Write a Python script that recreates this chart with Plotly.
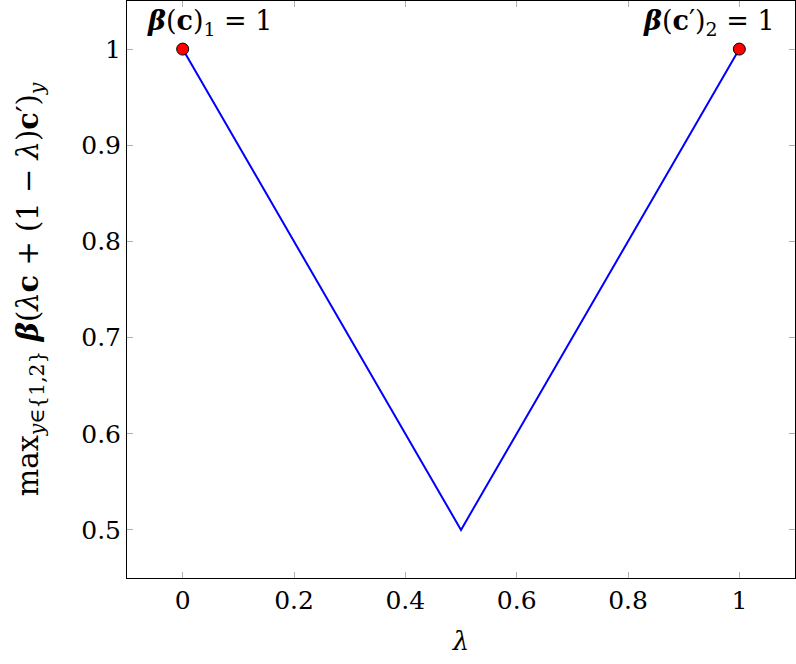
import plotly.graph_objects as go

lam = [0, 0.5, 1]
beta_max = [1, 0.5, 1]
pt_lam = [0, 1]
pt_val = [1, 1]
pt_labels = ["<b><i>β</i></b>(<b>c</b>)<sub>1</sub> = 1",
             "<b><i>β</i></b>(<b>c</b>′)<sub>2</sub> = 1"]
xticks = [0, 0.2, 0.4, 0.6, 0.8, 1]
xticklabels = ["0", "0.2", "0.4", "0.6", "0.8", "1"]
yticks = [0.5, 0.6, 0.7, 0.8, 0.9, 1]
yticklabels = ["0.5", "0.6", "0.7", "0.8", "0.9", "1"]

FONT = "DejaVu Serif"

fig = go.Figure()
fig.add_trace(go.Scatter(x=lam, y=beta_max, mode="lines",
                         line=dict(color="#0000ff", width=2), showlegend=False))
fig.add_trace(go.Scatter(x=pt_lam, y=pt_val, mode="markers",
                         marker=dict(color="#ff0000", size=12,
                                     line=dict(color="black", width=1)),
                         showlegend=False))

shifts = [27, -30]
for xv, yv, txt, sx in zip(pt_lam, pt_val, pt_labels, shifts):
    fig.add_annotation(x=xv, y=yv, text=txt, showarrow=False,
                       xshift=sx, yshift=27, yanchor="middle",
                       font=dict(family=FONT, size=27, color="black"))

axis_common = dict(showline=True, linecolor="black", linewidth=1,
                   mirror="ticks", ticks="inside", ticklen=6,
                   tickcolor="#b0b0b0", tickwidth=1, showgrid=False,
                   zeroline=False, automargin=False,
                   tickfont=dict(family=FONT, size=25, color="black"))

fig.update_xaxes(range=[-0.1, 1.1], tickvals=xticks, ticktext=xticklabels,
                 title=dict(text="<i>λ</i>", font=dict(family=FONT, size=26, color="black"),
                            standoff=17),
                 **axis_common)
fig.update_yaxes(range=[0.45, 1.05], tickvals=yticks, ticktext=yticklabels,
                 title=dict(text="max<sub><i>y</i>∈{1,2}</sub> <b><i>β</i></b>(<i>λ</i><b>c</b> + (1 − <i>λ</i>)<b>c</b>′)<sub><i>y</i></sub>",
                            font=dict(family=FONT, size=29, color="black"),
                            standoff=34),
                 **axis_common)

fig.update_layout(width=796, height=664,
                  margin=dict(l=127, r=1, t=1, b=86),
                  plot_bgcolor="white", paper_bgcolor="white",
                  font=dict(family=FONT, size=25, color="black"))

fig.write_html("out.html", config={"displayModeBar": False},
               post_script="document.body.style.margin='0';document.body.style.overflow='hidden';")
